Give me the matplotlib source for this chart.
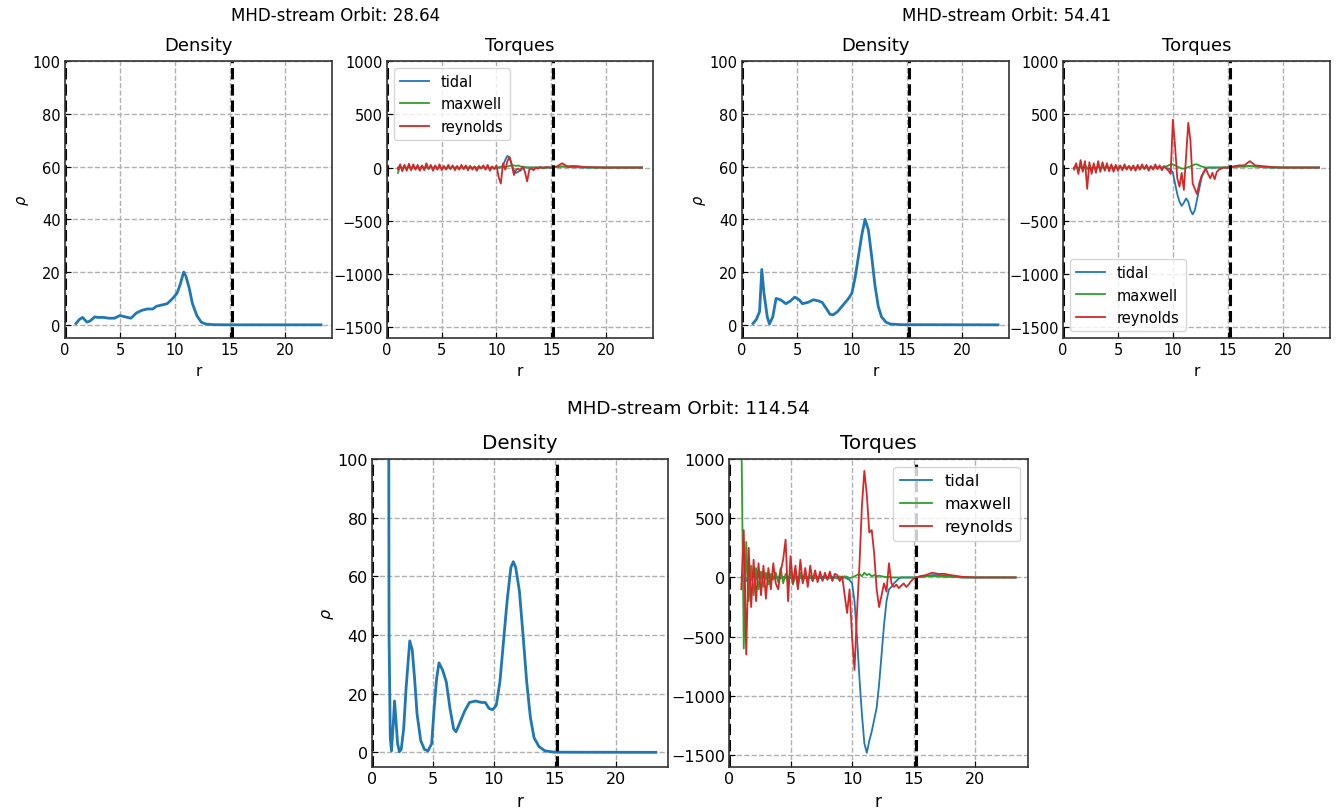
import numpy as np
import matplotlib
matplotlib.use("Agg")
from matplotlib import pyplot as plt

W, H = 1343, 812

orbits = ["28.64", "54.41", "114.54"]
r_edge = 15.2

# density profiles
dens_r1 = [1.0, 1.3, 1.6, 2.0, 2.3, 2.7, 3.0, 3.5, 4.0, 4.5, 5.0, 5.5, 6.0, 6.5, 7.0, 7.5, 8.0,
           8.3, 8.8, 9.3, 9.8, 10.2, 10.5, 10.8, 11.0, 11.3, 11.6, 12.0, 12.4, 12.8, 13.5, 15.0, 23.3]
dens_v1 = [0.5, 2.0, 2.8, 1.0, 1.5, 3.0, 2.8, 2.8, 2.5, 2.5, 3.5, 3.0, 2.5, 4.5, 5.5, 6.0, 6.0,
           7.0, 7.5, 8.0, 10.0, 12.0, 15.5, 20.0, 18.5, 14.0, 8.0, 3.5, 1.0, 0.3, 0.05, 0.0, 0.0]

dens_r2 = [1.0, 1.3, 1.6, 1.8, 2.0, 2.3, 2.5, 2.8, 3.1, 3.5, 4.0, 4.4, 4.8, 5.2, 5.5, 6.0, 6.5,
           7.0, 7.3, 7.7, 8.0, 8.3, 8.7, 9.2, 9.7, 10.0, 10.3, 10.6, 10.9, 11.2, 11.5, 11.8, 12.1,
           12.4, 12.7, 13.1, 13.5, 14.5, 23.3]
dens_v2 = [0.5, 2.0, 5.0, 21.0, 12.0, 3.0, 0.3, 3.0, 10.0, 9.5, 8.0, 9.0, 10.5, 9.5, 8.0, 8.5, 9.5,
           9.0, 8.5, 6.0, 4.0, 3.8, 5.0, 7.5, 10.0, 12.0, 18.0, 26.0, 34.0, 40.0, 36.0, 26.0, 15.0,
           7.0, 3.0, 1.0, 0.3, 0.05, 0.0]

dens_r3 = [1.3, 1.4, 1.5, 1.6, 1.75, 1.85, 1.95, 2.1, 2.25, 2.4, 2.6, 2.8, 3.1, 3.3, 3.5, 3.7, 4.0,
           4.3, 4.6, 4.9, 5.1, 5.3, 5.5, 5.8, 6.1, 6.4, 6.7, 6.9, 7.2, 7.6, 8.0, 8.5, 9.0, 9.3,
           9.6, 9.9, 10.2, 10.5, 10.8, 11.1, 11.4, 11.6, 11.8, 12.1, 12.4, 12.7, 13.0, 13.3, 13.7,
           14.2, 15.0, 23.3]
dens_v3 = [300.0, 40.0, 5.0, 0.5, 10.0, 17.5, 12.0, 3.0, 0.2, 1.0, 8.0, 22.0, 38.0, 35.0, 25.0, 13.0, 4.0,
           1.0, 0.5, 3.0, 15.0, 25.0, 30.5, 28.0, 24.0, 15.0, 8.0, 7.0, 10.0, 14.0, 17.0, 17.5, 17.0, 17.0,
           15.0, 14.5, 16.0, 24.0, 38.0, 52.0, 63.0, 65.0, 63.0, 55.0, 40.0, 24.0, 12.0, 5.0, 2.0,
           0.5, 0.05, 0.0]

# torque radial grid (inner 1.0..15.0 every 0.2, then outer points)
torq_r = list(np.round(np.arange(1.0, 15.01, 0.2), 2)) + [15.5, 16, 16.5, 17, 17.5, 18, 19, 20, 21, 22, 23.3]

tidal1 = [0, 5, -5, 5, -5, 5, -5, 5, -5, 5,
          -5, 5, -5, 5, -5, 5, -5, 5, -5, 5,
          -5, 5, -5, 5, -5, 5, -5, 5, -5, 5,
          -5, 5, -5, 5, -5, 5, -5, 5, -5, 5,
          -5, 5, -5, 5, -5, 0, 0, 5, 20, 70,
          110, 90, 30, -30, -50, -40, -20, -5, 0, 0,
          0, 0, 0, 0, 0, 0, 0, 0, 0, 0, 0,
          5, 10, 5, 3, 2, 0, 0, 0, 0, 0, 0]
maxwell1 = [-50, 10, -10, 15, -10, 10, -15, 10, -10, 5,
            -10, 10, -5, 10, -10, 5, -5, 10, -10, 5,
            -5, 5, -10, 5, -5, 10, -5, 5, -10, 5,
            -5, 5, -5, 10, -5, 5, -5, 5, -5, 5,
            -5, 5, -5, 5, -5, 5, 0, 5, 10, 5,
            10, 15, 20, 20, 15, 20, 10, 5, 5, 0,
            0, 0, 0, 0, 0, 0, 0, 0, 0, 0, 0,
            5, 10, 10, 8, 5, 2, 0, 0, 0, 0, 0]
reynolds1 = [-20, 30, -35, 25, -30, 35, -25, 30, -20, 25,
             -30, 20, -25, 40, -15, 25, -30, 20, -20, 30,
             -25, 15, -20, 25, -15, 20, -25, 15, -20, 25,
             -15, 20, -25, 15, -20, 10, -30, 15, -10, 20,
             -20, 25, -30, 10, -15, 20, -90, -150, 40, -20,
             60, 100, 20, -70, -20, -10, -30, 10, -40, -130,
             -20, -10, -25, 0, -10, 5, -5, 0, 5, 0, 0,
             10, 40, 10, 15, 12, 5, 2, 0, 0, 0, 0]

tidal2 = [0, 5, -5, 5, -5, 5, -5, 5, -5, 5,
          -5, 5, -5, 5, -5, 5, -5, 5, -5, 5,
          -5, 5, -5, 5, -5, 5, -5, 5, -5, 5,
          -5, 5, -5, 5, -5, 5, -5, 5, -5, 5,
          -5, 5, -5, -10, -20, -50, -150, -250, -320, -360,
          -330, -290, -320, -400, -440, -400, -300, -200, -100, -40,
          -10, 0, 0, 0, 0, 0, 0, 0, 0, 0, 0,
          5, 10, 10, 15, 10, 5, 0, 0, 0, 0, 0]
maxwell2 = [-20, 20, -30, 25, -20, 30, -15, 20, -25, 15,
            -20, 15, -10, 20, -15, 10, -10, 15, -10, 10,
            -5, 10, -10, 5, -5, 10, -5, 5, -10, 5,
            -5, 5, -5, 5, -5, 5, -5, 5, 0, 5,
            0, 5, 10, 20, 30, 30, 20, 10, 0, -10,
            -10, -5, 5, 10, 20, 30, 30, 20, 10, 5,
            0, 0, 0, 0, 0, 0, 0, 0, 0, 0, 0,
            5, 10, 10, 12, 10, 5, 0, 0, 0, 0, 0]
reynolds2 = [-10, 40, -60, 70, -40, 60, -200, 50, -60, 40,
             -50, 60, -40, 50, -30, 40, -35, 30, -40, 25,
             -30, 20, -25, 30, -20, 15, -25, 20, -30, 25,
             -20, 30, -15, 25, -30, 15, -20, 30, -15, 20,
             -25, 15, -10, -30, -60, 450, 200, -100, -180, -50,
             -210, 100, 420, 250, -150, -200, -250, -150, -80, -50,
             -10, -60, -100, -50, -110, -40, -20, -10, 0, 0, 0,
             10, 20, 20, 60, 20, 15, 5, 0, 0, 0, 0]

tidal3 = [0, 20, -30, 20, -20, 15, -15, 10, -10, 10,
          -10, 10, -10, 10, -5, 5, -5, 5, -5, 5,
          -5, 5, -5, 5, -5, 5, -5, 5, -5, 5,
          -5, 5, -5, 5, -5, 5, -5, 5, -5, 5,
          -5, 5, 0, -10, -20, -50, -200, -500, -850, -1150,
          -1400, -1480, -1380, -1300, -1200, -1100, -900, -650, -400, -200,
          -100, -80, -50, -30, -10, 0, 0, 0, 0, 0, 0,
          5, 10, 20, 20, 15, 10, 0, 0, 0, 0, 0]
maxwell3 = [1300, -600, 300, -200, 100, -150, 80, -100, 50, -80,
            40, -60, 30, -20, 40, -40, 80, -50, 30, -40,
            50, -60, 30, -80, 40, -40, 30, -20, 20, -30,
            20, -20, 15, -20, 20, -15, 15, -20, 10, -10,
            10, -10, 10, 5, -5, 0, 10, 20, 30, 10,
            40, 20, 30, 10, 20, 10, 15, 10, 5, 5,
            5, 0, 0, 0, 0, 0, 0, 0, 0, 0, 0,
            5, 10, 10, 10, 5, 5, 0, 0, 0, 0, 0]
reynolds3 = [-100, 400, -650, 250, -250, 150, -200, 120, -150, 100,
             -180, 80, -100, 120, -50, -100, 50, 150, 320, -200,
             180, -50, 100, -100, 150, -50, 80, -80, 100, -30,
             60, -40, 50, -30, 40, -20, 50, -30, 30, 20,
             -30, 10, -150, -300, -100, -500, -780, -300, 100, 600,
             900, 700, 380, 400, 200, -100, -250, -150, -50, -120,
             120, -50, -80, -60, -90, -70, -50, -80, -60, -30, -10,
             10, 20, 40, 30, 30, 20, 5, 0, 0, 0, 0]

dens_r = [dens_r1, dens_r2, dens_r3]
dens_v = [dens_v1, dens_v2, dens_v3]
torques = [(tidal1, maxwell1, reynolds1), (tidal2, maxwell2, reynolds2), (tidal3, maxwell3, reynolds3)]
legend_loc = ["upper left", "lower left", "upper right"]

# panel boxes in pixels: (density left, density right, torque left, torque right, top, bottom)
boxes = [(65, 332, 387, 653, 62, 339),
         (742, 1009, 1063, 1330, 62, 339),
         (372, 668, 729, 1028, 460, 768)]
title_pos = [(336, 16), (1007, 16), (688, 409)]
scales = [1.0, 1.0, 1.1]

fig = plt.figure(figsize=(W / 100, H / 100), dpi=100)


def style(ax, fs):
    ax.set_xlim(0, 24.3)
    ax.set_xticks([0, 5, 10, 15, 20])
    ax.tick_params(direction="in", labelsize=fs, length=4, pad=3)
    ax.grid(True, linestyle="--", color="#b0b0b0", linewidth=1.0)
    ax.axvline(0, color="k", linestyle="--", linewidth=2.2)
    ax.axvline(r_edge, color="k", linestyle="--", linewidth=2.2)
    for s in ax.spines.values():
        s.set_linewidth(1.2)
        s.set_color("#333333")


for i in range(3):
    dl, dr, tl, tr, top, bot = boxes[i]
    sc = scales[i]
    fs = 10.5 * sc
    axd = fig.add_axes([dl / W, 1 - bot / H, (dr - dl) / W, (bot - top) / H])
    axt = fig.add_axes([tl / W, 1 - bot / H, (tr - tl) / W, (bot - top) / H])

    axd.plot(dens_r[i], dens_v[i], color="tab:blue", linewidth=2.0)
    axd.set_ylim(-5, 100)
    axd.set_yticks([0, 20, 40, 60, 80, 100])
    style(axd, fs)
    axd.set_title("Density", fontsize=13 * sc, pad=8)
    axd.set_xlabel("r", fontsize=fs + 0.5)
    axd.set_ylabel(r"$\rho$", fontsize=fs, labelpad=1)

    td, mx, rey = torques[i]
    axt.plot(torq_r, td, color="tab:blue", linewidth=1.3, label="tidal")
    axt.plot(torq_r, mx, color="tab:green", linewidth=1.3, label="maxwell")
    axt.plot(torq_r, rey, color="tab:red", linewidth=1.3, label="reynolds")
    axt.set_ylim(-1600, 1000)
    axt.set_yticks([-1500, -1000, -500, 0, 500, 1000])
    style(axt, fs)
    axt.set_title("Torques", fontsize=13 * sc, pad=8)
    axt.set_xlabel("r", fontsize=fs + 0.5)
    axt.legend(loc=legend_loc[i], fontsize=fs)

    tx, ty = title_pos[i]
    fig.text(tx / W, 1 - ty / H, "MHD-stream Orbit: " + orbits[i], fontsize=12 * sc,
             ha="center", va="center")

fig.savefig("out.png", dpi=100)
